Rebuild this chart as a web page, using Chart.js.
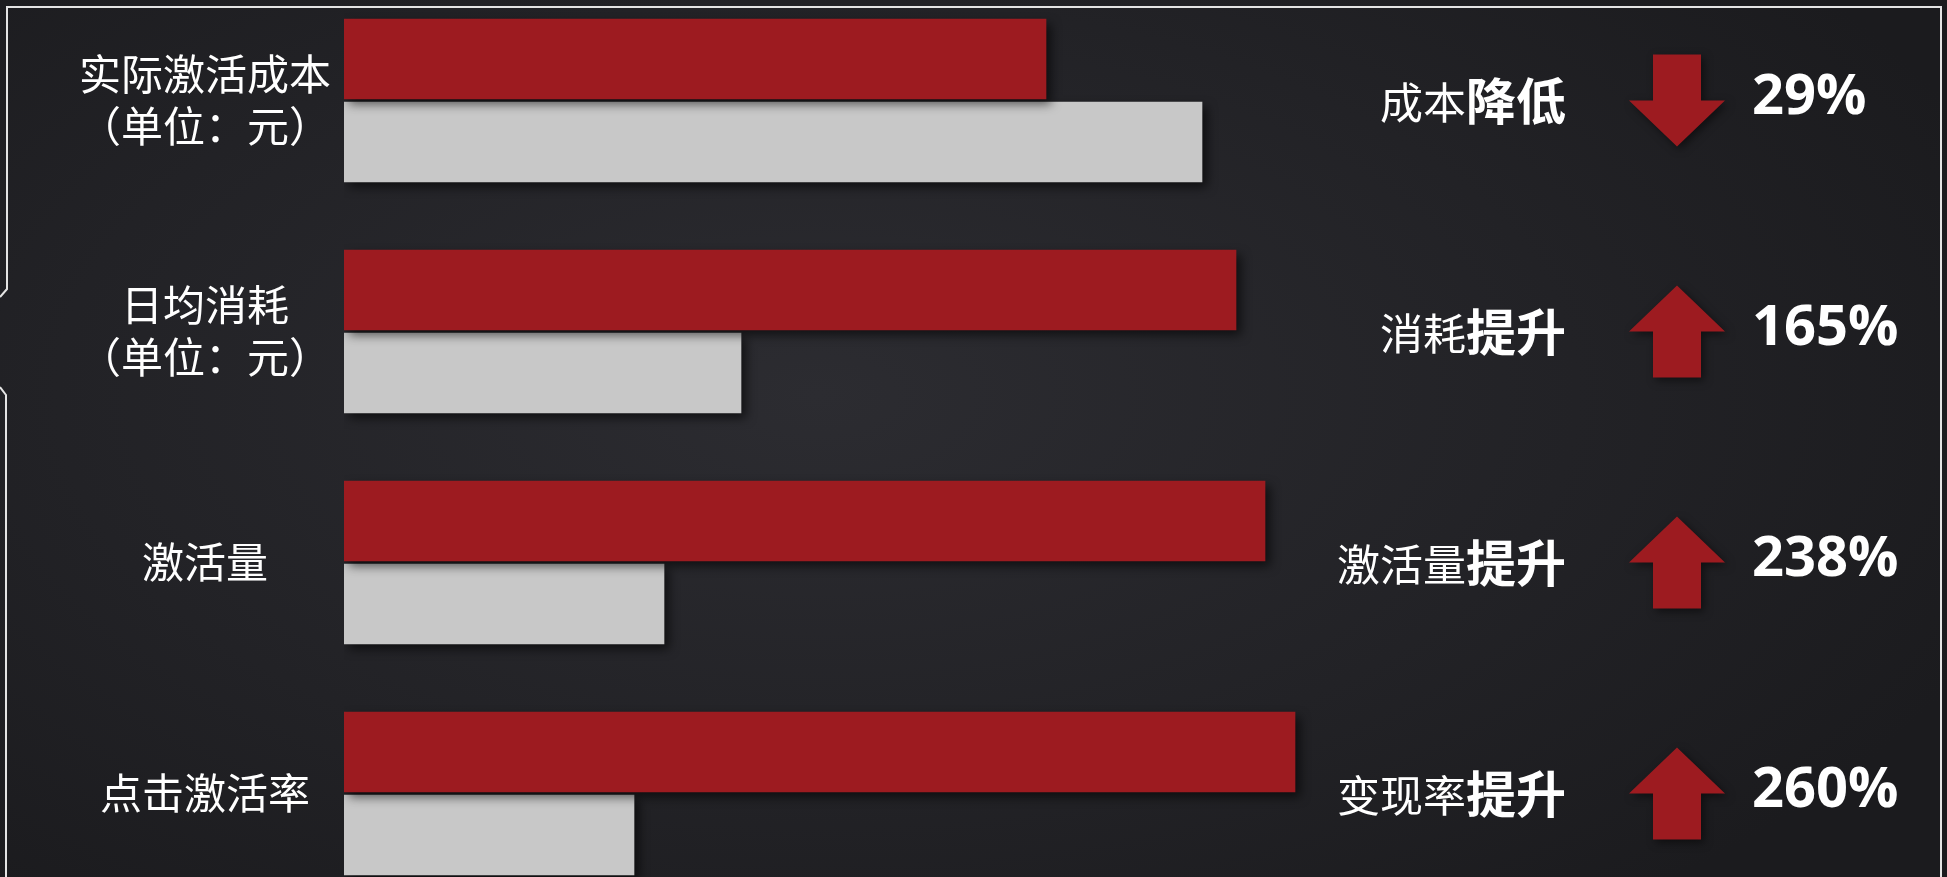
<!DOCTYPE html>
<html>
<head>
<meta charset="utf-8">
<script src="https://cdn.jsdelivr.net/npm/chart.js@4"></script>
<style>
html, body { margin: 0; padding: 0; width: 1947px; height: 877px; overflow: hidden;
  background: radial-gradient(ellipse 65% 75% at 42% 45%, #2c2c31 0%, #222226 60%, #1b1b1e 100%); }
#wrap { position: absolute; left: 0; top: -15px; width: 1947px; height: 924px; }
</style>
</head>
<body>
<div id="wrap"><canvas id="canvas"></canvas></div>
<script>
// data
var categories = [['实际激活成本', '（单位：元）'], ['日均消耗', '（单位：元）'], '激活量', '点击激活率']
var afterValues = [70.2, 89.2, 92.1, 95.1]
var beforeValues = [85.8, 39.7, 32.0, 29.0]
var changeNames = ['成本', '消耗', '激活量', '变现率']
var changeWords = ['降低', '提升', '提升', '提升']
var changeDirs = ['down', 'up', 'up', 'up']
var changePercents = ['29%', '165%', '238%', '260%']

var RED = '#9d1b20'
var GREY = '#c8c8c8'
var SHIFT = 15 // canvas sits 15px above the page top

function drawArrow(ctx, cx, cy, dir) {
    var s = dir == 'down' ? 1 : -1
    ctx.beginPath()
    ctx.moveTo(cx - 24, cy - s * 46)
    ctx.lineTo(cx + 24, cy - s * 46)
    ctx.lineTo(cx + 24, cy)
    ctx.lineTo(cx + 48, cy)
    ctx.lineTo(cx, cy + s * 46)
    ctx.lineTo(cx - 48, cy)
    ctx.lineTo(cx - 24, cy)
    ctx.closePath()
    ctx.fill()
}

var decor = {
    id: 'decor',
    beforeDatasetsDraw: function(chart) {
        var ctx = chart.ctx
        ctx.save()
        ctx.shadowColor = 'rgba(0,0,0,0.6)'
        ctx.shadowBlur = 10
        ctx.shadowOffsetX = 5
        ctx.shadowOffsetY = 5
    },
    afterDatasetsDraw: function(chart) {
        chart.ctx.restore()
    },
    afterDraw: function(chart) {
        var ctx = chart.ctx
        var y = chart.scales.y
        ctx.save()
        // frame
        ctx.strokeStyle = '#e4e4e4'
        ctx.lineWidth = 2
        ctx.beginPath()
        ctx.moveTo(0, 297 + SHIFT)
        ctx.lineTo(7, 289 + SHIFT)
        ctx.lineTo(7, 7 + SHIFT)
        ctx.lineTo(1941, 7 + SHIFT)
        ctx.lineTo(1941, 930)
        ctx.moveTo(0, 387 + SHIFT)
        ctx.lineTo(6, 395 + SHIFT)
        ctx.lineTo(6, 930)
        ctx.stroke()

        ctx.textBaseline = 'middle'
        changeNames.forEach(function(name, i) {
            var cy = y.getPixelForValue(i)
            ctx.fillStyle = '#ffffff'
            ctx.textAlign = 'right'
            ctx.font = '700 50px "Noto Sans CJK SC"'
            var w = ctx.measureText(changeWords[i]).width
            ctx.fillText(changeWords[i], 1566, cy)
            ctx.font = '400 43px "Noto Sans CJK SC"'
            ctx.fillText(name, 1566 - w, cy + 2)
            ctx.textAlign = 'left'
            ctx.font = '700 56px "Open Sans"'
            ctx.fillText(changePercents[i], 1752, cy - 2)

            ctx.save()
            ctx.shadowColor = 'rgba(0,0,0,0.5)'
            ctx.shadowBlur = 8
            ctx.shadowOffsetX = 3
            ctx.shadowOffsetY = 3
            ctx.fillStyle = RED
            drawArrow(ctx, 1677, cy, changeDirs[i])
            ctx.restore()
        })
        ctx.restore()
    }
}

var barData = {
    labels: categories,
    datasets: [{
        data: afterValues,
        backgroundColor: RED,
        barThickness: 83,
        maxBarThickness: 80
    }, {
        data: beforeValues,
        backgroundColor: GREY,
        barThickness: 83,
        maxBarThickness: 80
    }]
}

var options = {
    indexAxis: 'y',
    responsive: true,
    maintainAspectRatio: false,
    animation: false,
    layout: { padding: 0 },
    plugins: {
        legend: { display: false },
        tooltip: { enabled: false }
    },
    scales: {
        x: {
            display: false, min: 0, max: 100,
            afterFit: function(scale) { scale.paddingLeft = 0; scale.paddingRight = 0 }
        },
        y: {
            grid: { display: false, drawTicks: false },
            border: { display: false },
            ticks: {
                color: '#ffffff',
                padding: 13,
                crossAlign: 'center',
                font: { family: 'Noto Sans CJK SC', size: 42, lineHeight: 1.24 }
            },
            afterFit: function(scale) {
                scale.width = 344
                scale.paddingTop = 0
                scale.paddingBottom = 0
            }
        }
    }
}

// chart area runs from x=344 to x=1344 (1000px = 100 units)
options.layout.padding = { left: 0, right: 603, top: 0, bottom: 0 }

var myChart = new Chart(document.getElementById('canvas').getContext('2d'), {
    type: 'bar',
    data: barData,
    options: options,
    plugins: [decor]
})
</script>
</body>
</html>
